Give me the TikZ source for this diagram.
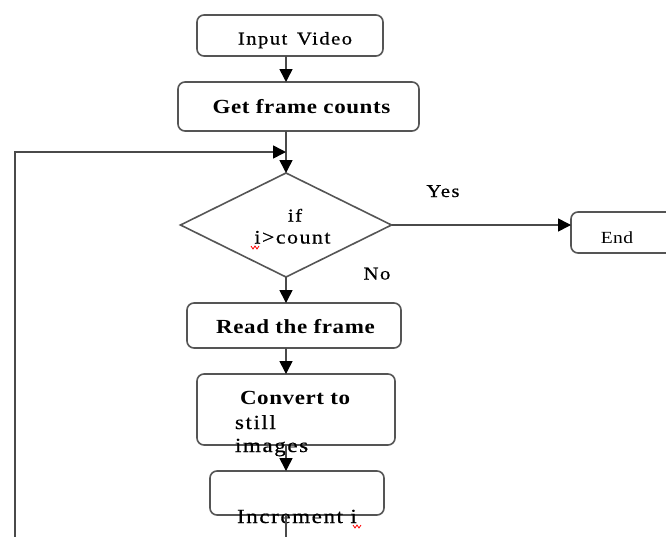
\documentclass[tikz,border=0pt]{standalone}
\usepackage{fontspec}
\setmainfont{Liberation Serif}[LetterSpace=3,FakeStretch=1.15]
\newfontfamily\spaced{Liberation Serif}[LetterSpace=8,FakeStretch=1.15,FakeBold=0.6]
\usetikzlibrary{shapes.geometric,arrows.meta}
\definecolor{linec}{HTML}{4A4A4A}
\definecolor{boxc}{HTML}{555555}
\begin{document}
\begin{tikzpicture}[x=1pt,y=-1pt,
  box/.style={draw=boxc,line width=1.6pt,rounded corners=7pt,rectangle,inner sep=0pt,outer sep=0pt},
  decision/.style={draw=boxc,line width=1.6pt,diamond,inner sep=0pt,outer sep=0pt},
  conn/.style={draw=linec,line width=1.6pt},
  arrow/.style={conn,-{Triangle[length=13pt,width=13pt,color=black,fill=black]}},
  txt/.style={inner sep=0pt,outer sep=0pt,font=\spaced\fontsize{20}{23}\selectfont},
  btxt/.style={inner sep=0pt,outer sep=0pt,font=\fontsize{20}{23}\selectfont\bfseries},
  stxt/.style={inner sep=0pt,outer sep=0pt,font=\spaced\fontsize{18}{21}\selectfont},
  squig/.style={draw=red,line width=0.8pt}
]
\clip (0,0) rectangle (666,536);
\fill[white] (0,0) rectangle (666,536);
\coordinate (spine) at (286,0);
% boxes
\node[box,minimum width=186pt,minimum height=41pt] (inp) at (290,35.5) {};
\node[box,minimum width=241pt,minimum height=49pt] (get) at (298.5,106.5) {};
\node[decision,minimum width=211pt,minimum height=104pt] (dia) at (286,225) {};
\node[box,minimum width=129pt,minimum height=41pt] (end) at (635.5,232.5) {};
\node[box,minimum width=214pt,minimum height=45pt] (read) at (294,325.5) {};
\node[box,minimum width=198pt,minimum height=71pt] (conv) at (296,409.5) {};
\node[box,minimum width=174pt,minimum height=44pt] (inc) at (297,493) {};
% texts
\node[stxt,anchor=base] (tinp) at (295,44.5) {Input\hspace{3pt} Video};
\node[btxt,anchor=base] (tget) at (301.5,113) {Get frame counts};
\node[stxt,anchor=base] (tif) at (295,221.5) {if};
\node[stxt,font=\spaced\fontsize{19}{22}\selectfont,anchor=base] (tcnt) at (292.5,243.5) {i>count};
\node[stxt,anchor=base] (tyes) at (443,197) {Yes};
\node[stxt,anchor=base] (tno) at (377,279.5) {No};
\node[inner sep=0pt,font=\fontsize{17}{20}\selectfont,anchor=base] (tend) at (617,243.3) {End};
\node[btxt,anchor=base] (tread) at (295.5,333) {Read the frame};
\node[btxt,anchor=base west] (tconv) at (240,404) {Convert to};
\node[txt,anchor=base west] (tstill) at (235,429) {still};
\node[txt,anchor=base west] (timg) at (235,452) {images};
\node[txt,anchor=base west] (tinc) at (237,523) {Increment i};
% spell-check squiggles
\draw[squig] (251,246) -- (253,249) -- (255,246) -- (257,249) -- (259,246);
\draw[squig] (353,525) -- (355,528) -- (357,525) -- (359,528) -- (361,525);
% connectors
\coordinate (join) at (286,152);
\coordinate (loopB) at (15,580);
\draw[arrow] (inp.south -| spine) -- (get.north -| spine);
\draw[arrow] (get.south -| spine) -- (dia.north);
\draw[arrow] (dia.east) -- (end.west |- dia.east);
\draw[arrow] (dia.south) -- (read.north -| spine);
\draw[arrow] (read.south -| spine) -- (conv.north -| spine);
\draw[arrow] (conv.south -| spine) -- (inc.north -| spine);
\draw[arrow] (inc.south -| spine) |- (loopB) |- (join);
\end{tikzpicture}
\end{document}
